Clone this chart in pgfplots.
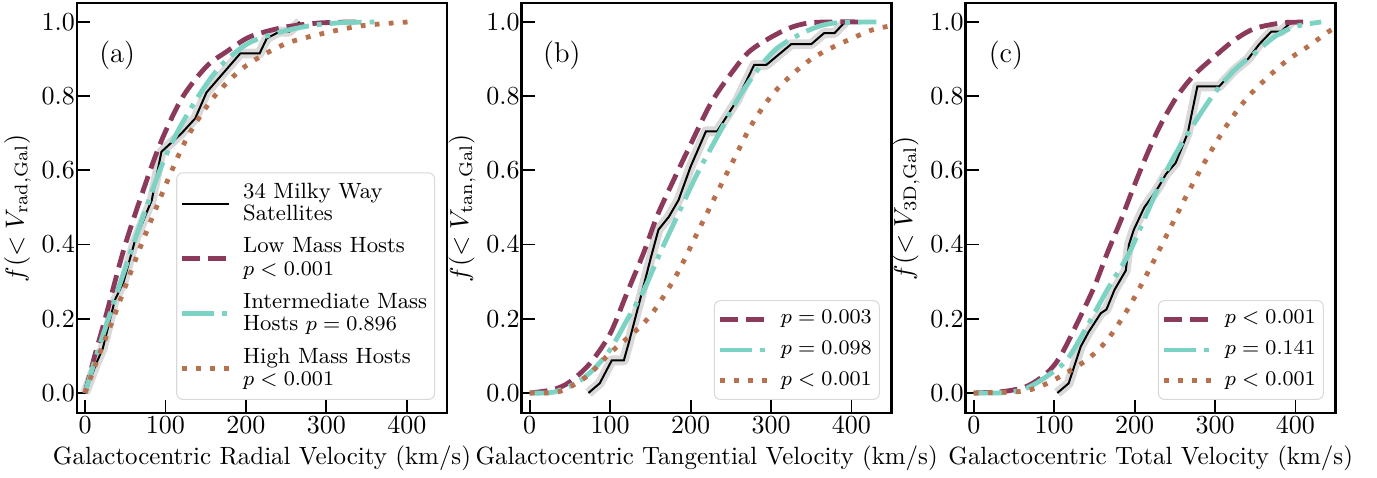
\documentclass[border=0pt]{standalone}
\usepackage{fontspec}
\usepackage{pgfplots}
\pgfplotsset{compat=1.18}
\definecolor{lowc}{HTML}{8C3A5B}
\definecolor{midc}{HTML}{7DD3C3}
\definecolor{highc}{HTML}{B8714F}
\definecolor{bandc}{HTML}{D9D9D9}
\tikzset{plab/.style={font=\fontsize{11}{13}\selectfont}}
\pgfplotsset{
 panel/.style={
  scale only axis, width=142.31pt, height=157.69pt,
  xmin=-10, xmax=450, ymin=-0.054, ymax=1.051,
  xtick={0,100,200,300,400}, ytick={0,0.2,0.4,0.6,0.8,1.0},
  yticklabel style={/pgf/number format/fixed,/pgf/number format/fixed zerofill,/pgf/number format/precision=1, inner xsep=0.6pt},
  xticklabel style={inner ysep=1.2pt},
  tick label style={font=\fontsize{10}{12}\selectfont},
  label style={font=\fontsize{9.6}{11.5}\selectfont},
  ylabel style={font=\fontsize{10}{12}\selectfont},
  tick align=inside, xtick pos=bottom, ytick pos=left,
  major tick length=5pt, tick style={black, line width=0.7pt},
  axis line style={line width=1pt},
  legend style={draw=black!15, rounded corners=2.3pt, fill=white, fill opacity=0.8, text opacity=1,
    font=\fontsize{8.5}{8.6}\selectfont, cells={align=left}, at={(0.968,0.032)}, anchor=south east,
    inner xsep=1.2pt, inner ysep=1.2pt, nodes={inner xsep=1.7pt, inner ysep=2.6pt},
    /tikz/every odd column/.append style={column sep=2.7pt}},
  legend cell align=left,
  legend image code/.code={\draw[##1] (0pt,0pt) -- (18.1pt,0pt);},
 },
 lowstyle/.style={lowc, line width=1.85pt, dash pattern=on 6.9pt off 3.1pt, smooth},
 midstyle/.style={midc, line width=1.85pt, dash pattern=on 12.3pt off 3.1pt on 1.85pt off 3.1pt, smooth},
 highstyle/.style={highc, line width=1.85pt, dash pattern=on 1.85pt off 3.55pt, smooth},
 obsstyle/.style={black, line width=0.77pt},
 bandstyle/.style={bandc, line width=3.8pt, line join=round, forget plot},
}
\begin{document}
\begin{tikzpicture}
% ---------------- (a)
\begin{axis}[panel, at={(0pt,0pt)}, anchor=south west,
  xlabel={Galactocentric Radial Velocity (km/s)},
  ylabel={$f(<V_{\mathrm{rad,Gal}})$}]
\addplot[bandstyle] coordinates {(0,0) (14,0.08) (22,0.12) (37,0.25) (48,0.30) (62,0.41) (83,0.52) (95,0.65) (120,0.70) (137,0.74) (151,0.81) (193,0.915) (217,0.915) (226,0.956) (242,0.974) (254,0.974) (267,1.0)};
\addplot[obsstyle] coordinates {(0,0) (14,0.08) (22,0.12) (37,0.25) (48,0.30) (62,0.41) (83,0.52) (95,0.65) (120,0.70) (137,0.74) (151,0.81) (193,0.915) (217,0.915) (226,0.956) (242,0.974) (254,0.974) (267,1.0)};
\addlegendentry{34 Milky Way\\Satellites}
\addplot[lowstyle] coordinates {(0,0) (12,0.1) (25,0.2) (50,0.4) (81,0.6) (99,0.7) (122,0.8) (151,0.88) (176,0.92) (205,0.96) (246,0.985) (290,0.997) (337,1.0)};
\addlegendentry{Low Mass Hosts\\$p<0.001$}
\addplot[midstyle] coordinates {(0,0) (14,0.1) (29,0.2) (60,0.4) (93,0.6) (114,0.7) (141,0.8) (168,0.88) (201,0.94) (238,0.97) (280,0.99) (320,0.998) (370,1.0)};
\addlegendentry{Intermediate Mass\\Hosts $p=0.896$}
\addplot[highstyle] coordinates {(0,0) (17,0.1) (35,0.2) (70,0.4) (108,0.6) (130,0.7) (161,0.8) (199,0.88) (248,0.94) (298,0.97) (345,0.99) (403,1.0)};
\addlegendentry{High Mass Hosts\\$p<0.001$}
\node[plab] at (axis cs:40,0.91) {(a)};
\end{axis}
% ---------------- (b)
\begin{axis}[panel, at={(171.04pt,0pt)}, anchor=south west,
  xlabel={Galactocentric Tangential Velocity (km/s)},
  ylabel={$f(<V_{\mathrm{tan,Gal}})$}]
\addplot[bandstyle] coordinates {(73,0) (87,0.026) (102,0.088) (117,0.088) (123,0.134) (137,0.25) (150,0.36) (160,0.44) (173,0.475) (185,0.52) (200,0.61) (219,0.705) (233,0.705) (258,0.79) (279,0.884) (294,0.884) (325,0.94) (350,0.94) (366,0.97) (379,0.97) (392,1.0)};
\addplot[obsstyle, forget plot] coordinates {(73,0) (87,0.026) (102,0.088) (117,0.088) (123,0.134) (137,0.25) (150,0.36) (160,0.44) (173,0.475) (185,0.52) (200,0.61) (219,0.705) (233,0.705) (258,0.79) (279,0.884) (294,0.884) (325,0.94) (350,0.94) (366,0.97) (379,0.97) (392,1.0)};
\addplot[lowstyle] coordinates {(0,0) (29,0.009) (50,0.03) (75,0.08) (100,0.16) (121,0.27) (142,0.38) (158,0.475) (175,0.556) (200,0.67) (225,0.78) (250,0.86) (275,0.924) (317,0.978) (350,0.998) (408,1.0)};
\addlegendentry{$p=0.003$}
\addplot[midstyle] coordinates {(0,0) (29,0.002) (58,0.027) (79,0.063) (100,0.117) (121,0.197) (142,0.278) (162,0.377) (183,0.475) (208,0.59) (233,0.69) (258,0.79) (283,0.87) (308,0.93) (342,0.973) (375,0.996) (431,1.0)};
\addlegendentry{$p=0.098$}
\addplot[highstyle] coordinates {(0,0) (37,0.004) (71,0.045) (100,0.108) (133,0.17) (154,0.22) (183,0.32) (208,0.43) (233,0.54) (254,0.63) (275,0.72) (300,0.80) (325,0.856) (350,0.90) (375,0.93) (400,0.955) (425,0.978) (450,0.99)};
\addlegendentry{$p<0.001$}
\node[plab] at (axis cs:40,0.91) {(b)};
\end{axis}
% ---------------- (c)
\begin{axis}[panel, at={(341.81pt,0pt)}, anchor=south west,
  xlabel={Galactocentric Total Velocity (km/s)},
  ylabel={$f(<V_{\mathrm{3D,Gal}})$}]
\addplot[bandstyle] coordinates {(104,0) (118,0.026) (133,0.125) (143,0.165) (158,0.215) (165,0.225) (175,0.278) (189,0.33) (193,0.40) (199,0.44) (212,0.50) (222,0.53) (230,0.556) (239,0.59) (251,0.62) (266,0.70) (278,0.826) (305,0.826) (324,0.87) (341,0.90) (355,0.94) (370,0.974) (382,0.974) (395,1.0)};
\addplot[obsstyle, forget plot] coordinates {(104,0) (118,0.026) (133,0.125) (143,0.165) (158,0.215) (165,0.225) (175,0.278) (189,0.33) (193,0.40) (199,0.44) (212,0.50) (222,0.53) (230,0.556) (239,0.59) (251,0.62) (266,0.70) (278,0.826) (305,0.826) (324,0.87) (341,0.90) (355,0.94) (370,0.974) (382,0.974) (395,1.0)};
\addplot[lowstyle] coordinates {(0,0) (37,0.004) (66,0.018) (91,0.054) (108,0.1) (129,0.19) (150,0.287) (166,0.377) (183,0.466) (199,0.556) (216,0.646) (233,0.726) (253,0.80) (274,0.857) (299,0.906) (324,0.951) (349,0.982) (382,0.997) (415,1.0)};
\addlegendentry{$p<0.001$}
\addplot[midstyle] coordinates {(0,0) (41,0.001) (66,0.013) (91,0.045) (116,0.09) (141,0.18) (166,0.278) (191,0.368) (208,0.448) (228,0.547) (249,0.637) (274,0.726) (299,0.807) (324,0.87) (349,0.915) (374,0.96) (399,0.987) (432,1.0)};
\addlegendentry{$p=0.141$}
\addplot[highstyle] coordinates {(0,0) (58,0.004) (83,0.018) (108,0.045) (141,0.09) (166,0.143) (191,0.224) (216,0.323) (241,0.43) (266,0.538) (291,0.637) (316,0.726) (341,0.798) (366,0.852) (390,0.897) (415,0.933) (444,0.978) (450,0.983)};
\addlegendentry{$p<0.001$}
\node[plab] at (axis cs:40,0.91) {(c)};
\end{axis}
\pgfresetboundingbox
\path (-29.615pt,-24.615pt) rectangle (500pt,158.846pt);
\end{tikzpicture}
\end{document}
